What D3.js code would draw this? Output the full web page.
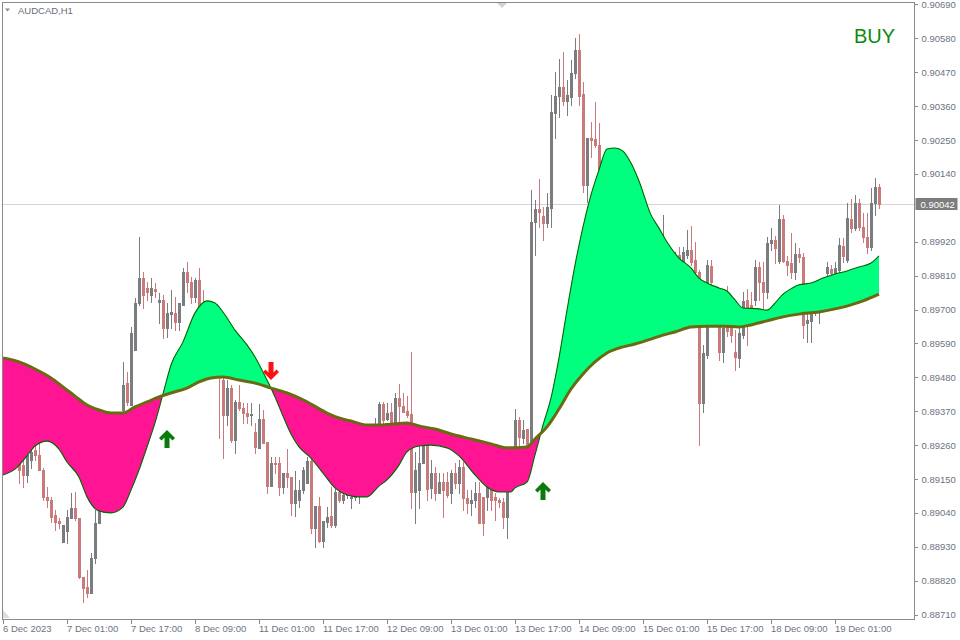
<!DOCTYPE html>
<html><head><meta charset="utf-8">
<script src="https://cdn.jsdelivr.net/npm/d3@7"></script>
<style>body{margin:0;background:#fff;}svg{display:block;}</style>
</head><body>
<svg id="chart" width="960" height="640"></svg>
<script>
// ---------------- DATA ----------------
const symbolTitle = "AUDCAD,H1";
const signalText = "BUY";
const timeTickBars = [0,16,32,48,64,80,96,112,128,144,160,176,192,208];
const timeTickLabels = ["6 Dec 2023","7 Dec 01:00","7 Dec 17:00","8 Dec 09:00","11 Dec 01:00","11 Dec 17:00","12 Dec 09:00","13 Dec 01:00","13 Dec 17:00","14 Dec 09:00","15 Dec 01:00","15 Dec 17:00","18 Dec 09:00","19 Dec 01:00"];
const priceTicks = [0.88710,0.88820,0.88930,0.89040,0.89150,0.89260,0.89370,0.89480,0.89590,0.89700,0.89810,0.89920,0.90140,0.90250,0.90360,0.90470,0.90580,0.90690];
const lastPrice = 0.90042;

const opens = [0.89277,0.89244,0.89260,0.89228,0.89205,0.89195,0.89163,0.89212,0.89244,0.89228,
0.89179,0.89092,0.89082,0.89033,0.89014,0.88946,0.88981,0.89023,0.89056,0.89023,
0.88832,0.88800,0.88780,0.88894,0.89007,0.89049,0.89098,0.89147,0.89179,0.89244,
0.89374,0.89462,0.89390,0.89569,0.89721,0.89802,0.89770,0.89747,0.89767,0.89724,
0.89731,0.89640,0.89685,0.89689,0.89659,0.89715,0.89822,0.89789,0.89741,0.89796,
0.89708,0.89682,0.89633,0.89585,0.89536,0.89471,0.89358,0.89445,0.89277,0.89400,
0.89380,0.89364,0.89358,0.89303,0.89251,0.89345,0.89270,0.89127,0.89202,0.89202,
0.89124,0.89169,0.89156,0.89072,0.89082,0.89114,0.89137,0.89208,0.88991,0.89062,
0.88949,0.89010,0.89030,0.89001,0.89108,0.89082,0.89098,0.89088,0.89092,0.89108,
0.89114,0.89163,0.89212,0.89277,0.89332,0.89393,0.89345,0.89367,0.89332,0.89413,
0.89387,0.89371,0.89361,0.89108,0.89114,0.89202,0.89260,0.89121,0.89169,0.89105,
0.89140,0.89140,0.89105,0.89169,0.89137,0.89189,0.89088,0.89072,0.89082,0.89105,
0.89092,0.89092,0.89124,0.89092,0.89082,0.89075,0.89027,0.89147,0.89254,0.89341,
0.89283,0.89312,0.89260,0.89984,0.90026,0.90003,0.89981,0.90029,0.90338,0.90393,
0.90422,0.90377,0.90390,0.90467,0.90542,0.90399,0.90104,0.90257,0.90253,0.90234,
0.90153,0.90127,0.90146,0.90110,0.90072,0.90094,0.90046,0.90055,0.90007,0.89964,
0.89942,0.89926,0.89900,0.89887,0.89867,0.89854,0.89909,0.89877,0.89867,0.89877,
0.89851,0.89877,0.89893,0.89861,0.89822,0.89397,0.89552,0.89841,0.89763,0.89698,
0.89562,0.89646,0.89640,0.89562,0.89543,0.89617,0.89731,0.89715,0.89731,0.89838,
0.89789,0.89757,0.89916,0.89926,0.89857,0.89994,0.89857,0.89851,0.89822,0.89880,
0.89870,0.89656,0.89663,0.89692,0.89715,0.89731,0.89818,0.89831,0.89818,0.89828,
0.89906,0.89861,0.89994,0.89964,0.90046,0.89968,0.89935,0.89903,0.90046,0.90098];

const highs = [0.89309,0.89283,0.89277,0.89251,0.89218,0.89212,0.89244,0.89254,0.89267,0.89267,
0.89186,0.89124,0.89092,0.89049,0.89023,0.89001,0.89049,0.89105,0.89108,0.89023,
0.88832,0.88855,0.88910,0.89049,0.89066,0.89114,0.89163,0.89195,0.89260,0.89358,
0.89530,0.89497,0.89643,0.89737,0.89935,0.89822,0.89789,0.89802,0.89786,0.89754,
0.89747,0.89721,0.89763,0.89741,0.89721,0.89835,0.89854,0.89805,0.89802,0.89835,
0.89763,0.89715,0.89650,0.89601,0.89585,0.89478,0.89471,0.89455,0.89406,0.89455,
0.89397,0.89397,0.89397,0.89332,0.89393,0.89374,0.89270,0.89221,0.89221,0.89221,
0.89169,0.89247,0.89156,0.89176,0.89147,0.89189,0.89221,0.89221,0.89062,0.89092,
0.89014,0.89059,0.89124,0.89124,0.89114,0.89114,0.89121,0.89114,0.89131,0.89140,
0.89179,0.89228,0.89293,0.89348,0.89400,0.89400,0.89397,0.89397,0.89429,0.89458,
0.89429,0.89419,0.89562,0.89238,0.89260,0.89260,0.89260,0.89212,0.89189,0.89169,
0.89169,0.89173,0.89179,0.89202,0.89212,0.89205,0.89114,0.89114,0.89140,0.89140,
0.89092,0.89137,0.89137,0.89105,0.89088,0.89088,0.89179,0.89244,0.89377,0.89351,
0.89341,0.89312,0.90088,0.90055,0.90123,0.90033,0.90078,0.90396,0.90471,0.90513,
0.90536,0.90445,0.90510,0.90581,0.90594,0.90438,0.90257,0.90308,0.90373,0.90305,
0.90179,0.90169,0.90185,0.90159,0.90120,0.90136,0.90104,0.90094,0.90072,0.90023,
0.90007,0.89984,0.89964,0.89942,0.89926,0.90007,0.89916,0.89893,0.89887,0.89903,
0.89903,0.89958,0.89971,0.89919,0.89828,0.89585,0.89861,0.89861,0.89770,0.89731,
0.89666,0.89776,0.89682,0.89633,0.89698,0.89757,0.89767,0.89757,0.89861,0.89854,
0.89854,0.89935,0.89964,0.89939,0.90039,0.90007,0.89874,0.89948,0.89916,0.89900,
0.89883,0.89698,0.89715,0.89731,0.89747,0.89802,0.89854,0.89844,0.89854,0.89932,
0.89932,0.90046,0.90059,0.90072,0.90059,0.90013,0.90013,0.90094,0.90127,0.90107];

const lows = [0.89212,0.89218,0.89195,0.89186,0.89137,0.89124,0.89140,0.89186,0.89212,0.89179,
0.89082,0.89059,0.89010,0.88985,0.88991,0.88946,0.88942,0.89023,0.89017,0.88829,
0.88751,0.88767,0.88780,0.88877,0.89007,0.89043,0.89082,0.89121,0.89163,0.89228,
0.89364,0.89390,0.89390,0.89569,0.89715,0.89705,0.89731,0.89724,0.89741,0.89656,
0.89608,0.89611,0.89640,0.89633,0.89633,0.89715,0.89757,0.89721,0.89724,0.89708,
0.89666,0.89617,0.89569,0.89520,0.89283,0.89218,0.89325,0.89270,0.89234,0.89374,
0.89332,0.89332,0.89325,0.89234,0.89251,0.89267,0.89105,0.89127,0.89169,0.89098,
0.89105,0.89124,0.89033,0.89030,0.89059,0.89105,0.89137,0.88975,0.88929,0.88946,
0.88929,0.88994,0.88994,0.88994,0.89075,0.89072,0.89088,0.89056,0.89082,0.89072,
0.89098,0.89147,0.89195,0.89260,0.89332,0.89332,0.89341,0.89332,0.89332,0.89332,
0.89367,0.89351,0.89056,0.89007,0.89056,0.89202,0.89082,0.89088,0.89082,0.89105,
0.89027,0.89092,0.89072,0.89121,0.89105,0.89049,0.89040,0.89033,0.89059,0.89007,
0.88968,0.89049,0.89049,0.89017,0.89059,0.88991,0.88959,0.89131,0.89244,0.89254,
0.89267,0.89251,0.89254,0.89877,0.89968,0.89926,0.89968,0.89968,0.90257,0.90325,
0.90364,0.90331,0.90364,0.90451,0.90364,0.90081,0.90049,0.90195,0.90227,0.90136,
0.90104,0.90088,0.90094,0.90055,0.90039,0.90023,0.90007,0.89990,0.89942,0.89909,
0.89893,0.89874,0.89854,0.89835,0.89828,0.89828,0.89854,0.89835,0.89844,0.89835,
0.89835,0.89867,0.89844,0.89812,0.89260,0.89367,0.89543,0.89763,0.89672,0.89536,
0.89530,0.89614,0.89595,0.89504,0.89513,0.89608,0.89585,0.89666,0.89715,0.89731,
0.89705,0.89737,0.89893,0.89851,0.89851,0.89854,0.89812,0.89802,0.89799,0.89854,
0.89608,0.89595,0.89595,0.89682,0.89656,0.89715,0.89796,0.89802,0.89809,0.89812,
0.89854,0.89854,0.89951,0.89958,0.89958,0.89919,0.89883,0.89893,0.90007,0.90029];

const closes = [0.89244,0.89260,0.89228,0.89205,0.89179,0.89163,0.89228,0.89238,0.89228,0.89179,
0.89092,0.89082,0.89027,0.89010,0.89007,0.89001,0.89027,0.89056,0.89023,0.88832,
0.88796,0.88780,0.88894,0.89007,0.89049,0.89098,0.89147,0.89179,0.89244,0.89348,
0.89455,0.89400,0.89624,0.89721,0.89802,0.89747,0.89757,0.89770,0.89760,0.89731,
0.89640,0.89689,0.89692,0.89659,0.89721,0.89822,0.89789,0.89741,0.89796,0.89708,
0.89682,0.89633,0.89585,0.89536,0.89497,0.89358,0.89445,0.89277,0.89400,0.89380,
0.89364,0.89354,0.89361,0.89254,0.89345,0.89267,0.89127,0.89202,0.89199,0.89124,
0.89169,0.89156,0.89072,0.89114,0.89114,0.89179,0.89208,0.88991,0.89062,0.88949,
0.89014,0.89027,0.89001,0.89108,0.89082,0.89098,0.89105,0.89092,0.89108,0.89114,
0.89163,0.89212,0.89277,0.89315,0.89393,0.89341,0.89364,0.89332,0.89413,0.89387,
0.89367,0.89358,0.89108,0.89179,0.89202,0.89260,0.89118,0.89169,0.89105,0.89140,
0.89114,0.89098,0.89169,0.89137,0.89189,0.89088,0.89072,0.89082,0.89105,0.89007,
0.89007,0.89124,0.89082,0.89082,0.89075,0.89027,0.89147,0.89228,0.89341,0.89286,
0.89309,0.89254,0.89984,0.90026,0.90016,0.89981,0.90033,0.90341,0.90393,0.90422,
0.90377,0.90396,0.90467,0.90542,0.90393,0.90104,0.90257,0.90250,0.90234,0.90153,
0.90127,0.90146,0.90110,0.90072,0.90094,0.90046,0.90055,0.90007,0.89964,0.89942,
0.89926,0.89900,0.89887,0.89867,0.89854,0.89909,0.89877,0.89867,0.89877,0.89854,
0.89887,0.89893,0.89854,0.89822,0.89397,0.89559,0.89844,0.89789,0.89698,0.89562,
0.89640,0.89630,0.89617,0.89546,0.89624,0.89728,0.89705,0.89698,0.89838,0.89789,
0.89757,0.89916,0.89926,0.89900,0.89994,0.89857,0.89844,0.89822,0.89880,0.89870,
0.89650,0.89666,0.89692,0.89715,0.89731,0.89796,0.89838,0.89818,0.89835,0.89909,
0.89874,0.89997,0.89964,0.90046,0.89968,0.89935,0.89903,0.90046,0.90098,0.90042];

// slow (olive) line, sampled at bar indices
const slowBars = [0,4,8,12,15,18,21,24,27,30,33,36,39,42,46,49,52,55,59,64,67,71,74,77,81,84,87,91,94,97,101,104,108,112,117,122,126,131,133,136,139,142,145,148,151,154,158,162,165,168,172,176,180,184,187,191,195,199,204,208,212,215,219];
const slowValues = [0.89543,0.89530,0.89507,0.89478,0.89449,0.89419,0.89390,0.89374,0.89364,0.89364,0.89384,0.89400,0.89416,0.89429,0.89445,0.89465,0.89478,0.89481,0.89471,0.89458,0.89445,0.89429,0.89413,0.89393,0.89364,0.89348,0.89338,0.89325,0.89325,0.89328,0.89332,0.89322,0.89312,0.89296,0.89280,0.89264,0.89251,0.89254,0.89280,0.89319,0.89377,0.89442,0.89491,0.89530,0.89559,0.89575,0.89588,0.89604,0.89617,0.89627,0.89643,0.89646,0.89646,0.89643,0.89650,0.89663,0.89676,0.89685,0.89692,0.89702,0.89715,0.89728,0.89750];

// fast (signal) line, sampled at bar indices
const fastBars = [0,3,6,8,11,14,16,19,21,24,27,30,32,34,36,38,40,42,45,48,51,53,55,58,61,63,66,68,70,72,74,77,80,83,86,89,91,94,96,99,101,104,107,111,114,118,121,124,127,128,131,133,135,137,139,141,143,145,147,149,151,153,155,157,159,162,164,166,169,172,174,176,179,181,183,185,189,191,193,195,197,199,202,205,208,211,214,217,219];
const fastValues = [0.89163,0.89182,0.89225,0.89257,0.89273,0.89247,0.89205,0.89156,0.89092,0.89046,0.89040,0.89059,0.89114,0.89179,0.89254,0.89332,0.89426,0.89520,0.89595,0.89689,0.89728,0.89721,0.89692,0.89633,0.89585,0.89546,0.89471,0.89416,0.89354,0.89296,0.89254,0.89218,0.89169,0.89121,0.89098,0.89092,0.89092,0.89127,0.89147,0.89195,0.89238,0.89257,0.89260,0.89251,0.89225,0.89163,0.89124,0.89108,0.89108,0.89121,0.89140,0.89228,0.89325,0.89413,0.89543,0.89698,0.89844,0.89968,0.90072,0.90153,0.90221,0.90224,0.90214,0.90175,0.90117,0.90007,0.89964,0.89919,0.89867,0.89835,0.89802,0.89786,0.89770,0.89760,0.89731,0.89705,0.89702,0.89698,0.89721,0.89750,0.89767,0.89780,0.89786,0.89802,0.89815,0.89825,0.89838,0.89851,0.89874];

// signal arrows
const arrowBars = [41, 67, 135];
const arrowPrices = [0.89309, 0.89471, 0.89140];
const arrowDirs = ["up", "down", "up"];

// ---------------- DRAW ----------------
const svg = d3.select("#chart");
const W = 960, H = 640;
const frame = {left: 2.5, top: 2.5, right: 914.5, bottom: 619.5};

const x = d3.scaleLinear().domain([0, opens.length - 1]).range([3, 879]);
const y = d3.scaleLinear().domain([0.88710, 0.90690]).range([614.6, 4.4]);

svg.append("rect").attr("width", W).attr("height", H).attr("fill", "#ffffff");

const defs = svg.append("defs");
defs.append("clipPath").attr("id", "plotClip").append("rect")
  .attr("x", frame.left).attr("y", frame.top)
  .attr("width", frame.right - frame.left).attr("height", frame.bottom - frame.top);

const slowData = slowBars.map((b, i) => ({b, v: slowValues[i]}));
const fastData = fastBars.map((b, i) => ({b, v: fastValues[i]}));
const curve = d3.curveMonotoneX;

defs.append("clipPath").attr("id", "aboveSlow").append("path")
  .attr("d", d3.area().curve(curve).x(d => x(d.b)).y0(0).y1(d => y(d.v))(slowData));
defs.append("clipPath").attr("id", "belowSlow").append("path")
  .attr("d", d3.area().curve(curve).x(d => x(d.b)).y0(d => y(d.v)).y1(H)(slowData));

const plot = svg.append("g").attr("clip-path", "url(#plotClip)");

// current price line
const py = Math.round(y(lastPrice)) + 0.5;
plot.append("line").attr("x1", frame.left).attr("x2", frame.right)
  .attr("y1", py).attr("y2", py).attr("stroke", "#d4d4d4").attr("stroke-width", 1);

// candles
const bars = opens.map((o, i) => ({i, o, h: highs[i], l: lows[i], c: closes[i]}));
const candleG = plot.append("g").attr("shape-rendering", "crispEdges");
const bull = "#7a7c80", bear = "#c97a7a";
candleG.selectAll("rect.wick").data(bars).join("rect").attr("class", "wick")
  .attr("x", d => Math.round(x(d.i)))
  .attr("width", 1)
  .attr("y", d => Math.round(y(d.h)))
  .attr("height", d => Math.max(1, Math.round(y(d.l)) - Math.round(y(d.h)) + 1))
  .attr("fill", d => d.c >= d.o ? bull : bear);
candleG.selectAll("rect.body").data(bars).join("rect").attr("class", "body")
  .attr("x", d => Math.round(x(d.i)) - 1)
  .attr("width", 3)
  .attr("y", d => Math.round(y(Math.max(d.o, d.c))))
  .attr("height", d => Math.max(1, Math.round(y(Math.min(d.o, d.c))) - Math.round(y(Math.max(d.o, d.c))) + 1))
  .attr("fill", d => d.c >= d.o ? bull : bear);

// band fills
plot.append("g").attr("clip-path", "url(#aboveSlow)").append("path")
  .attr("d", d3.area().curve(curve).x(d => x(d.b)).y0(d => y(d.v)).y1(H)(fastData))
  .attr("fill", "#00ff7f");
plot.append("g").attr("clip-path", "url(#belowSlow)").append("path")
  .attr("d", d3.area().curve(curve).x(d => x(d.b)).y0(0).y1(d => y(d.v))(fastData))
  .attr("fill", "#ff1493");

// lines
plot.append("path").attr("d", d3.line().curve(curve).x(d => x(d.b)).y(d => y(d.v))(fastData))
  .attr("fill", "none").attr("stroke", "#006400").attr("stroke-width", 1.1);
plot.append("path").attr("d", d3.line().curve(curve).x(d => x(d.b)).y(d => y(d.v))(slowData))
  .attr("fill", "none").attr("stroke", "#6b6a12").attr("stroke-width", 3);

// arrows
const arrowShape = [[0,0],[8,8],[5.5,10.5],[2.5,7.5],[2.5,18],[-2.5,18],[-2.5,7.5],[-5.5,10.5],[-8,8]];
arrowBars.forEach((b, k) => {
  const cx = x(b), ty = y(arrowPrices[k]);
  const s = arrowDirs[k] === "up" ? 1 : -1;
  const pts = arrowShape.map(p => [cx + p[0], ty + s * p[1]]);
  plot.append("path").attr("d", d3.line()(pts) + "Z")
    .attr("fill", arrowDirs[k] === "up" ? "#0a7a0a" : "#ff0f0f");
});

// frame
const frameG = svg.append("g").attr("shape-rendering", "crispEdges");
frameG.append("path")
  .attr("d", `M${frame.left},${frame.bottom}V${frame.top}H${frame.right}V${frame.bottom}H${frame.left}`)
  .attr("fill", "none").attr("stroke", "#8a8a8a").attr("stroke-width", 1);

const fontFam = "'Liberation Sans', Arial, sans-serif";
const labelColor = "#6b7482";

// right price axis
const yAxis = d3.axisRight(y).tickValues(priceTicks).tickSize(3).tickPadding(4)
  .tickFormat(d3.format(".5f"));
const yg = svg.append("g").attr("transform", `translate(${frame.right},0)`).call(yAxis);
yg.select(".domain").remove();
yg.selectAll(".tick line").attr("stroke", "#8a8a8a").attr("shape-rendering", "crispEdges");
yg.selectAll(".tick text").attr("fill", labelColor).style("font-family", fontFam).style("font-size", "9.5px");

// bottom time axis
const xAxis = d3.axisBottom(x).tickValues(timeTickBars).tickSize(4)
  .tickFormat((d, i) => timeTickLabels[i]);
const xg = svg.append("g").attr("transform", `translate(0,${frame.bottom})`).call(xAxis);
xg.select(".domain").remove();
xg.selectAll(".tick line").attr("stroke", "#8a8a8a").attr("shape-rendering", "crispEdges");
xg.selectAll(".tick text").attr("fill", labelColor).attr("text-anchor", "start")
  .attr("x", -0.5).attr("y", 6).attr("dy", "0.71em")
  .style("font-family", fontFam).style("font-size", "9.5px");

// last price box
svg.append("rect").attr("x", frame.right + 1).attr("y", py - 6.5).attr("width", 42).attr("height", 12)
  .attr("fill", "#7d7d7d");
svg.append("text").attr("x", frame.right + 6).attr("y", py).attr("dy", "0.34em")
  .attr("fill", "#ffffff").style("font-family", fontFam).style("font-size", "9.5px")
  .text(d3.format(".5f")(lastPrice));

// title
svg.append("path").attr("d", "M5,8.5L10,8.5L7.5,11.5Z").attr("fill", "#8a8a8a");
svg.append("text").attr("x", 18).attr("y", 14).attr("fill", "#666d78")
  .style("font-family", fontFam).style("font-size", "9.5px").text(symbolTitle);

// shift markers
svg.append("path").attr("d", "M497,3L507,3L502,8Z").attr("fill", "#d2d2d2");
svg.append("path").attr("d", "M3,610L3,618L10,618Z").attr("fill", "#dcdcdc");

// signal text
svg.append("text").attr("x", 854).attr("y", 43).attr("fill", "#0c8a0c")
  .style("font-family", fontFam).style("font-size", "20px").text(signalText);
</script>
</body></html>
